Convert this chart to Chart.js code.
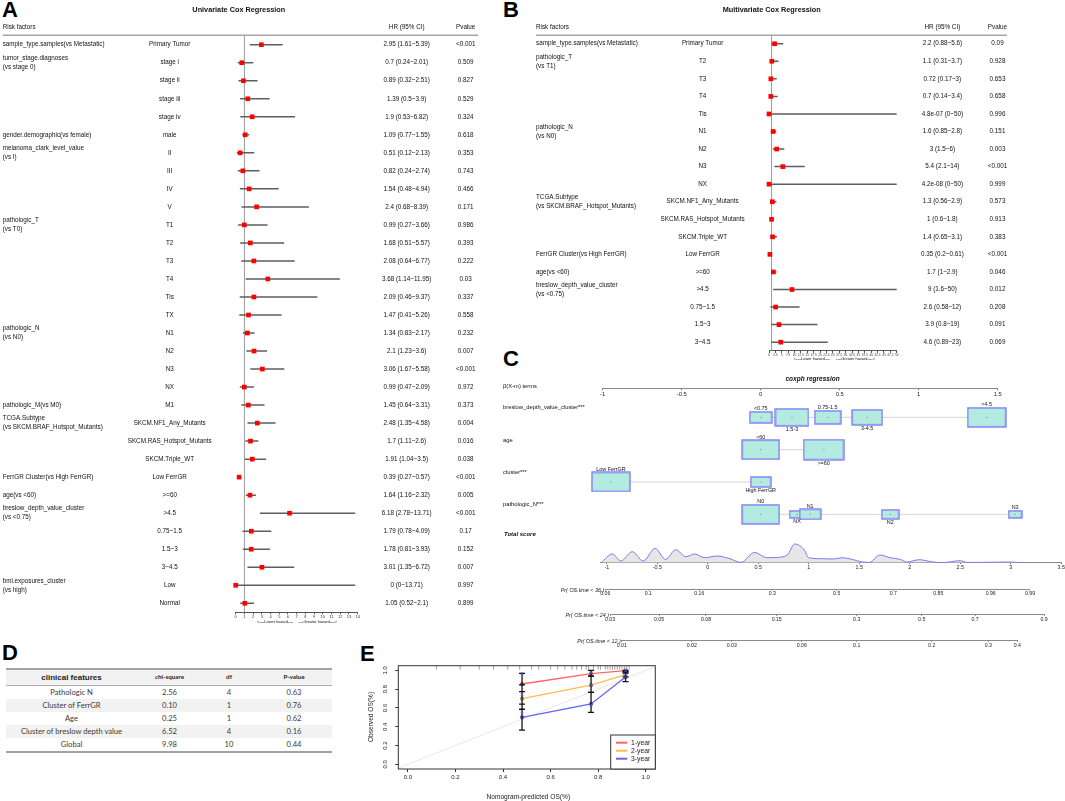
<!DOCTYPE html>
<html>
<head>
<meta charset="utf-8">
<title>Cox regression, nomogram and calibration</title>
<script src="https://cdn.jsdelivr.net/npm/chart.js@4.4.1/dist/chart.umd.min.js"></script>
<style>
  html, body { margin: 0; padding: 0; background: #fff; }
  body { position: relative; width: 1065px; height: 801px; overflow: hidden; font-family: "Liberation Sans", Arial, sans-serif; }
  canvas { position: absolute; }
  .tag { position: absolute; font: bold 22px "Liberation Sans", Arial, sans-serif; line-height: 22px; color: #000; }
  #phTable { position: absolute; left: 6px; top: 668px; width: 326px; border-collapse: collapse; table-layout: fixed;
             font-family: Lato, "Open Sans", sans-serif; color: #3a3a3a; border-top: 2px solid #a3a3a3; border-bottom: 2px solid #a3a3a3; }
  #phTable th { height: 15px; background: #f2f2f2; font-size: 6.3px; font-weight: bold; text-align: center; padding: 0; line-height: 1;
                border-bottom: 1px solid #b0b0b0; color: #222; }
  #phTable th.first { font: bold 8px "Liberation Sans", Arial, sans-serif; }
  #phTable td { height: 13px; font-size: 7.6px; text-align: center; padding: 0; line-height: 1; }
  #phTable tbody tr:nth-child(even) td { background: #f2f2f2; }
</style>
</head>
<body>
<div class="tag" style="left:2px;top:-1px">A</div>
<div class="tag" style="left:503px;top:-1px">B</div>
<div class="tag" style="left:503px;top:348px">C</div>
<div class="tag" style="left:2px;top:642px">D</div>
<div class="tag" style="left:360px;top:643px">E</div>
<table id="phTable">
  <colgroup><col style="width:131px"><col style="width:65px"><col style="width:54px"><col style="width:76px"></colgroup>
  <thead><tr><th class="first">clinical features</th><th>chi-square</th><th>df</th><th>P-value</th></tr></thead>
  <tbody></tbody>
</table>
<script>
const FONT = '"Liberation Sans", Arial, Helvetica, sans-serif';
Chart.defaults.font.family = FONT;
Chart.defaults.color = '#222';
Chart.defaults.animation = false;

// ---- A: univariate Cox ----
const uniGroups = [
  'sample_type.samples(vs Metastatic)',
  'tumor_stage.diagnoses\n(vs stage 0)', '', '', '',
  'gender.demographic(vs female)',
  'melanoma_clark_level_value\n(vs I)', '', '', '',
  'pathologic_T\n(vs T0)', '', '', '', '', '',
  'pathologic_N\n(vs N0)', '', '', '',
  'pathologic_M(vs M0)',
  'TCGA.Subtype\n(vs SKCM.BRAF_Hotspot_Mutants)', '', '',
  'FerrGR Cluster(vs High FerrGR)',
  'age(vs <60)',
  'breslow_depth_value_cluster\n(vs <0.75)', '', '', '',
  'bmi.exposures_cluster\n(vs high)', ''
];
const uniLevels = ['Primary Tumor', 'stage i', 'stage ii', 'stage iii', 'stage iv', 'male', 'II', 'III', 'IV', 'V',
  'T1', 'T2', 'T3', 'T4', 'Tis', 'TX', 'N1', 'N2', 'N3', 'NX', 'M1',
  'SKCM.NF1_Any_Mutants', 'SKCM.RAS_Hotspot_Mutants', 'SKCM.Triple_WT', 'Low FerrGR', '>=60',
  '>4.5', '0.75~1.5', '1.5~3', '3~4.5', 'Low', 'Normal'];
const uniHR = [2.95, 0.7, 0.89, 1.39, 1.9, 1.09, 0.51, 0.82, 1.54, 2.4, 0.99, 1.68, 2.08, 3.68, 2.09, 1.47,
  1.34, 2.1, 3.06, 0.99, 1.45, 2.48, 1.7, 1.91, 0.39, 1.64, 6.18, 1.79, 1.78, 3.01, 0, 1.05];
const uniLow = [1.61, 0.24, 0.32, 0.5, 0.53, 0.77, 0.12, 0.24, 0.48, 0.68, 0.27, 0.51, 0.64, 1.14, 0.46, 0.41,
  0.83, 1.23, 1.67, 0.47, 0.64, 1.35, 1.11, 1.04, 0.27, 1.16, 2.78, 0.78, 0.81, 1.35, 0, 0.52];
const uniHigh = [5.39, 2.01, 2.51, 3.9, 6.82, 1.55, 2.13, 2.74, 4.94, 8.39, 3.66, 5.57, 6.77, 11.95, 9.37, 5.26,
  2.17, 3.6, 5.58, 2.09, 3.31, 4.58, 2.6, 3.5, 0.57, 2.32, 13.71, 4.09, 3.93, 6.72, 13.71, 2.1];
const uniP = ['<0.001', '0.509', '0.827', '0.529', '0.324', '0.618', '0.353', '0.743', '0.466', '0.171', '0.986',
  '0.393', '0.222', '0.03', '0.337', '0.558', '0.232', '0.007', '<0.001', '0.972', '0.373', '0.004', '0.016',
  '0.038', '<0.001', '0.005', '<0.001', '0.17', '0.152', '0.007', '0.997', '0.899'];

// ---- B: multivariate Cox ----
const multiGroups = ['sample_type.samples(vs Metastatic)', 'pathologic_T\n(vs T1)', '', '', '',
  'pathologic_N\n(vs N0)', '', '', '', 'TCGA.Subtype\n(vs SKCM.BRAF_Hotspot_Mutants)', '', '',
  'FerrGR Cluster(vs High FerrGR)', 'age(vs <60)', 'breslow_depth_value_cluster\n(vs <0.75)', '', '', ''];
const multiLevels = ['Primary Tumor', 'T2', 'T3', 'T4', 'Tis', 'N1', 'N2', 'N3', 'NX', 'SKCM.NF1_Any_Mutants',
  'SKCM.RAS_Hotspot_Mutants', 'SKCM.Triple_WT', 'Low FerrGR', '>=60', '>4.5', '0.75~1.5', '1.5~3', '3~4.5'];
const multiHR = [2.2, 1.1, 0.72, 0.7, 4.8e-7, 1.6, 3, 5.4, 4.2e-8, 1.3, 1, 1.4, 0.35, 1.7, 9, 2.6, 3.9, 4.6];
const multiLow = [0.88, 0.31, 0.17, 0.14, 0, 0.85, 1.5, 2.1, 0, 0.56, 0.6, 0.65, 0.2, 1, 1.6, 0.58, 0.8, 0.89];
const multiHigh = [5.6, 3.7, 3, 3.4, 50, 2.8, 6, 14, 50, 2.9, 1.8, 3.1, 0.61, 2.9, 50, 12, 19, 23];
const multiP = ['0.09', '0.928', '0.653', '0.658', '0.996', '0.151', '0.003', '<0.001', '0.999', '0.573', '0.913',
  '0.383', '<0.001', '0.046', '0.012', '0.208', '0.091', '0.069'];

// ---- C: nomogram ----
const nomoVars = ['breslow_depth_value_cluster***', 'age', 'cluster***', 'pathologic_N***'];
const nomoLevels = [['<0.75', '1.5-3', '0.75-1.5', '3-4.5', '>4.5'], ['<60', '>=60'], ['Low FerrGR', 'High FerrGR'], ['N0', 'NX', 'N1', 'N2', 'N3']];
const nomoBeta = [[0, 0.198, 0.424, 0.674, 1.43], [0, 0.398], [-0.948, 0], [0, 0.23, 0.313, 0.82, 1.61]];
const nomoShare = [[0.10, 0.24, 0.15, 0.19, 0.31], [0.30, 0.34], [0.32, 0.087], [0.30, 0.046, 0.092, 0.065, 0.039]];
const pointTicks = [-1, -0.5, 0, 0.5, 1, 1.5];
const scoreTicks = [-1, -0.5, 0, 0.5, 1, 1.5, 2, 2.5, 3, 3.5];
const scoreAt = [-1.057, -0.945, -0.861, -0.748, -0.640, -0.521, -0.419, -0.317, -0.216, -0.131, -0.029, 0.090,
  0.209, 0.328, 0.464, 0.582, 0.684, 0.786, 0.861, 0.956, 0.998, 1.126, 1.245, 1.330, 1.432, 1.516, 1.601, 1.703,
  1.805, 1.907, 1.975, 2.093, 2.212, 2.314, 2.501, 2.568, 2.687, 2.993, 3.095];
const scoreDensity = [0, 8.7, 1.7, 11, 1.7, 14.3, 3.3, 13, 6, 8.7, 5, 6.7, 4.3, 0.3, 10.3, 5, 5.3, 7.7, 18.7, 12.7,
  5, 4, 3.7, 5, 3.3, 1, 0.3, 7.7, 5, 3.3, 0.7, 3, 1, 0, 2, 0.3, 0.3, 0.7, 0];
const pr36Labels = ['0.06', '0.1', '0.16', '0.3', '0.5', '0.7', '0.85', '0.96', '0.99'];
const pr36At = [-1.015, -0.589, -0.084, 0.639, 1.276, 1.837, 2.282, 2.801, 3.190];
const pr24Labels = ['0.03', '0.05', '0.08', '0.15', '0.3', '0.5', '0.7', '0.9'];
const pr24At = [-0.968, -0.483, -0.018, 0.682, 1.474, 2.118, 2.646, 3.329];
const pr12Labels = ['0.01', '0.02', '0.03', '0.06', '0.1', '0.2', '0.3', '0.4'];
const pr12At = [-0.852, -0.159, 0.237, 0.930, 1.474, 2.217, 2.777, 3.064];

// ---- D: proportional hazards test ----
const phFeatures = ['Pathologic N', 'Cluster of FerrGR', 'Age', 'Cluster of breslow depth value', 'Global'];
const phChisq = ['2.56', '0.10', '0.25', '6.52', '9.98'];
const phDf = [4, 1, 1, 4, 10];
const phP = ['0.63', '0.76', '0.62', '0.16', '0.44'];

// ---- E: calibration ----
const calNames = ['1-year', '2-year', '3-year'];
const calX = [0.48, 0.77, 0.915];
const cal1y = [0.855, 0.965, 0.997];
const cal2y = [0.70, 0.843, 0.955];
const cal3y = [0.50, 0.643, 0.93];
const cal1yLo = [0.773, 0.94, 0.985], cal1yHi = [0.969, 1.0, 1.0];
const cal2yLo = [0.586, 0.766, 0.93], cal2yHi = [0.845, 0.94, 0.985];
const cal3yLo = [0.365, 0.553, 0.88], cal3yHi = [0.64, 0.766, 0.97];
const calCorrected = [[0.969, 0.975, 0.995], [0.745, 0.84, 0.955], [0.535, 0.63, 0.925]];
const calRug = [0.12, 0.22, 0.3, 0.36, 0.42, 0.47, 0.52, 0.55, 0.6, 0.63, 0.66, 0.69, 0.71, 0.73, 0.75, 0.76,
  0.78, 0.8, 0.81, 0.83, 0.84, 0.85, 0.86, 0.87, 0.88, 0.89, 0.9, 0.91, 0.92, 0.93];
const calTicks = [0, 0.2, 0.4, 0.6, 0.8, 1.0];
const calColors = ['#ff6464', '#ffbb55', '#6464ff'];

function fmt(v) {
  if (v !== 0 && Math.abs(v) < 1e-3) return v.toExponential(1).replace(/e-(\d)$/, 'e-0$1');
  return String(v);
}

function makeCanvas(left, top, width, height) {
  const c = document.createElement('canvas');
  c.width = width; c.height = height;
  Object.assign(c.style, {left: left + 'px', top: top + 'px', width: width + 'px', height: height + 'px'});
  document.body.appendChild(c);
  return c;
}

// forest plot: a scatter chart for the marks, text columns drawn beside it
function drawForest(o) {
  const cv = makeCanvas(o.left, o.top, o.width, o.height);
  const n = o.hr.length, L = o.left, T = o.top, axisH = 9;
  const whisker = [];
  o.lo.forEach((lo, i) => whisker.push({x: lo, y: i}, {x: o.hi[i], y: i}, {x: null, y: i}));
  const marks = o.hr.map((v, i) => ({x: v, y: i}));

  const textPlugin = {
    id: 'forestText',
    beforeDatasetsDraw(chart) {
      const ctx = chart.ctx, a = chart.chartArea, x1 = chart.scales.x.getPixelForValue(1);
      ctx.save();
      ctx.strokeStyle = '#9a9a9a'; ctx.lineWidth = 1;
      ctx.beginPath(); ctx.moveTo(x1, a.top); ctx.lineTo(x1, a.bottom); ctx.stroke();
      ctx.restore();
    },
    afterDraw(chart) {
      const ctx = chart.ctx, ys = chart.scales.y;
      ctx.save();
      ctx.fillStyle = '#111';
      ctx.textBaseline = 'middle';
      ctx.font = 'bold 7.3px ' + FONT; ctx.textAlign = 'center';
      ctx.fillText(o.title, o.titleX - L, 10 - T);
      ctx.font = '6.3px ' + FONT;
      ctx.textAlign = 'left'; ctx.fillText('Risk factors', o.varX - L, 27 - T);
      ctx.textAlign = 'center';
      ctx.fillText('HR (95% CI)', o.hrX - L, 27 - T);
      ctx.fillText('Pvalue', o.pX - L, 27 - T);
      ctx.strokeStyle = '#a6a6a6'; ctx.lineWidth = 1.5;
      ctx.beginPath(); ctx.moveTo(o.varX - L, 35.3 - T); ctx.lineTo(o.ruleEnd - L, 35.3 - T); ctx.stroke();
      for (let i = 0; i < n; i++) {
        const y = ys.getPixelForValue(i);
        if (o.groups[i]) {
          const lines = o.groups[i].split('\n');
          ctx.textAlign = 'left';
          if (lines.length === 1) ctx.fillText(lines[0], o.varX - L, y);
          else { ctx.fillText(lines[0], o.varX - L, y - 4.5); ctx.fillText(lines[1], o.varX - L, y + 4.5); }
        }
        ctx.textAlign = 'center';
        ctx.fillText(o.levels[i], o.levelX - L, y);
        ctx.fillText(fmt(o.hr[i]) + ' (' + fmt(o.lo[i]) + '~' + fmt(o.hi[i]) + ')', o.hrX - L, y);
        ctx.fillText(o.p[i], o.pX - L, y);
      }
      ctx.font = '3.9px ' + FONT;
      ctx.fillText('<----Lower hazard----', o.lowX - L, o.hazY - T);
      ctx.fillText('----Greater hazard---->', o.highX - L, o.hazY - T);
      ctx.restore();
    }
  };

  new Chart(cv, {
    type: 'scatter',
    data: {datasets: [
      {type: 'line', data: whisker, borderColor: '#5e5e5e', borderWidth: 1.5, pointRadius: 0, spanGaps: false, clip: false, order: 2},
      {data: marks, pointStyle: 'rect', pointRadius: 3.3, backgroundColor: '#ff0000', borderWidth: 0, clip: false, order: 1}
    ]},
    options: {
      responsive: false, animation: false, events: [],
      layout: {padding: {left: o.area.left - L, right: L + o.width - o.area.right, top: o.area.top - T,
                         bottom: T + o.height - o.area.bottom - axisH}},
      plugins: {legend: {display: false}, tooltip: {enabled: false}},
      scales: {
        x: {type: 'linear', min: 0, max: o.xMax,
            afterFit(s) { s.height = axisH; s.paddingLeft = 0; s.paddingRight = 0; },
            ticks: {stepSize: o.step, autoSkip: false, maxRotation: 0, padding: 0.5, font: {size: o.tickSize}, color: '#333'},
            grid: {drawOnChartArea: false, tickLength: 2, color: '#555'},
            border: {color: '#555', width: 1}},
        y: {type: 'linear', display: false, reverse: true, min: -0.5, max: n - 0.5}
      }
    },
    plugins: [textPlugin]
  });
}

drawForest({
  left: 0, top: 0, width: 490, height: 635,
  area: {left: 235.7, right: 357.7, top: 35.7, bottom: 612.3},
  xMax: 14, step: 1, tickSize: 4,
  title: 'Univariate Cox Regression', titleX: 238.8,
  varX: 2.7, levelX: 169.7, hrX: 406.7, pX: 465.7, ruleEnd: 478,
  lowX: 275, highX: 317.7, hazY: 621.7,
  groups: uniGroups, levels: uniLevels, hr: uniHR, lo: uniLow, hi: uniHigh, p: uniP
});

drawForest({
  left: 500, top: 0, width: 565, height: 372,
  area: {left: 769, right: 896.7, top: 34.95, bottom: 350.95},
  xMax: 50, step: 2.5, tickSize: 3.2,
  title: 'Multivariate Cox Regression', titleX: 771.7,
  varX: 536, levelX: 702.6, hrX: 942.4, pX: 997.5, ruleEnd: 1007,
  lowX: 811.7, highX: 855.5, hazY: 358.6,
  groups: multiGroups, levels: multiLevels, hr: multiHR, lo: multiLow, hi: multiHigh, p: multiP
});

// ---- nomogram boxes ----
function boxImage(h) {
  const c = document.createElement('canvas');
  c.width = Math.round(2 * h + 2); c.height = Math.round(h + 2);
  const g = c.getContext('2d');
  g.fillStyle = '#b4ebe1'; g.strokeStyle = '#7d7df5'; g.lineWidth = 1.4;
  g.fillRect(1, 1, c.width - 2, c.height - 2);
  g.strokeRect(1, 1, c.width - 2, c.height - 2);
  g.fillStyle = '#777'; g.fillRect(c.width / 2 - 0.5, c.height / 2 - 0.5, 1, 1);
  return c;
}

function drawNomogram() {
  const L = 500, T = 372;
  const cv = makeCanvas(L, T, 565, 172);
  const pts = [], imgs = [], tags = [], links = [];
  nomoBeta.forEach((betas, r) => {
    betas.forEach((b, k) => {
      pts.push({x: b, y: r});
      imgs.push(boxImage(34 * Math.sqrt(nomoShare[r][k])));
      tags.push({text: nomoLevels[r][k], above: k % 2 === 0});
    });
    links.push({x: Math.min(...betas), y: r}, {x: Math.max(...betas), y: r}, {x: null, y: r});
  });
  const textPlugin = {
    id: 'nomoText',
    afterDraw(chart) {
      const ctx = chart.ctx, ys = chart.scales.y, meta = chart.getDatasetMeta(1);
      ctx.save();
      ctx.fillStyle = '#111';
      ctx.textBaseline = 'middle';
      ctx.font = 'bold italic 6.5px ' + FONT; ctx.textAlign = 'center';
      ctx.fillText('coxph regression', 812.6 - L, 379.7 - T);
      ctx.font = '5.8px ' + FONT; ctx.textAlign = 'left';
      ctx.fillText('\u03b2(X-m) terms', 503 - L, 386 - T);
      nomoVars.forEach((v, r) => ctx.fillText(v, 503 - L, ys.getPixelForValue(r) - 9.6));
      ctx.font = 'bold italic 6px ' + FONT;
      ctx.fillText('Total score', 504 - L, 534 - T);
      ctx.font = '5.4px ' + FONT; ctx.textAlign = 'center';
      meta.data.forEach((pt, i) => {
        const h = imgs[i].height / 2;
        if (tags[i].above) { ctx.textBaseline = 'bottom'; ctx.fillText(tags[i].text, pt.x, pt.y - h + 0.8); }
        else { ctx.textBaseline = 'top'; ctx.fillText(tags[i].text, pt.x, pt.y + h - 0.3); }
      });
      ctx.restore();
    }
  };
  new Chart(cv, {
    type: 'scatter',
    data: {datasets: [
      {type: 'line', data: links, borderColor: '#d5d5d5', borderWidth: 1, pointRadius: 0, spanGaps: false, order: 2},
      {data: pts, pointStyle: imgs, pointRadius: 3, order: 1}
    ]},
    options: {
      responsive: false, animation: false, events: [],
      layout: {padding: {left: 86.9, right: 35.7, top: 16.7, bottom: 13.5}},
      plugins: {legend: {display: false}, tooltip: {enabled: false}},
      scales: {
        x: {type: 'linear', display: false, min: -1.1, max: 1.7},
        y: {type: 'linear', display: false, reverse: true, min: -0.885, max: 3.5}
      }
    },
    plugins: [textPlugin]
  });
}
drawNomogram();

// one nomogram axis (optionally with data above it)
function nomoAxis(o) {
  const padL = o.padLeft || 30, padR = 30, belowH = 10;
  const areaTop = o.areaTop !== undefined ? o.areaTop : o.axisY - 3;
  const left = Math.floor(o.pxLeft - padL), top = Math.floor(areaTop - 3);
  const width = Math.ceil(o.pxRight + padR - left), height = Math.ceil(o.axisY + belowH + 3 - top);
  const cv = makeCanvas(left, top, width, height);
  const plugins = [];
  if (o.title) {
    plugins.push({
      id: 'axisTitle',
      afterDraw(chart) {
        const ctx = chart.ctx;
        ctx.save();
        ctx.font = 'italic 5.4px ' + FONT; ctx.fillStyle = '#222';
        ctx.textAlign = 'right'; ctx.textBaseline = 'middle';
        ctx.fillText(o.title, chart.chartArea.left - 1, chart.chartArea.bottom + 1.5);
        ctx.restore();
      }
    });
  }
  return new Chart(cv, {
    type: 'scatter',
    data: {datasets: o.datasets || []},
    options: {
      responsive: false, animation: false, events: [],
      layout: {padding: {left: o.pxLeft - left, right: left + width - o.pxRight, top: areaTop - top,
                         bottom: top + height - o.axisY - belowH}},
      plugins: {legend: {display: false}, tooltip: {enabled: false}},
      scales: {
        x: {type: 'linear', min: o.min, max: o.max,
            afterFit(s) { s.height = belowH; s.paddingLeft = 0; s.paddingRight = 0; },
            afterBuildTicks(s) { s.ticks = o.at.map(v => ({value: v})); },
            ticks: {autoSkip: false, maxRotation: 0, minRotation: 0, padding: 0.3, font: {size: o.fontSize || 5.2},
                    color: '#222', callback: (v, i) => o.labels[i]},
            grid: {drawOnChartArea: false, tickLength: 1.5, color: '#777'},
            border: {color: '#8a8a8a', width: 1}},
        y: {type: 'linear', display: false, min: 0, max: o.yMax || 1}
      }
    },
    plugins
  });
}

// points axis at the top of the nomogram
nomoAxis({min: -1, max: 1.5, pxLeft: 602.7, pxRight: 997.7, axisY: 388.7, at: pointTicks,
          labels: pointTicks.map(String), fontSize: 5.8});

// total score axis with the score density
const SCORE0 = 707.8, SCORE_PX = 101;
nomoAxis({min: -1.06, max: 3.5, pxLeft: SCORE0 - 1.06 * SCORE_PX, pxRight: SCORE0 + 3.5 * SCORE_PX,
          axisY: 562.7, areaTop: 542.7, yMax: 20, at: scoreTicks, labels: scoreTicks.map(String), fontSize: 5.4,
          datasets: [{type: 'line', data: scoreAt.map((x, i) => ({x, y: scoreDensity[i]})), borderColor: '#7a7af0',
                      borderWidth: 1, backgroundColor: '#e6e6e6', fill: 'origin', pointRadius: 0,
                      cubicInterpolationMode: 'monotone'}]});

// probability axes
[[pr36At, pr36Labels, 'Pr( OS.time < 36 )', 589],
 [pr24At, pr24Labels, 'Pr( OS.time < 24 )', 614.3],
 [pr12At, pr12Labels, 'Pr( OS.time < 12 )', 640.3]].forEach(([at, labels, title, y]) => {
  const mn = at[0], mx = at[at.length - 1];
  nomoAxis({min: mn, max: mx, pxLeft: SCORE0 + mn * SCORE_PX, pxRight: SCORE0 + mx * SCORE_PX, axisY: y,
            at, labels, title, padLeft: 60, fontSize: 5.2});
});

// ---- D table ----
const tbody = document.querySelector('#phTable tbody');
phFeatures.forEach((f, i) => {
  const tr = document.createElement('tr');
  [f, phChisq[i], phDf[i], phP[i]].forEach(v => {
    const td = document.createElement('td'); td.textContent = v; tr.appendChild(td);
  });
  tbody.appendChild(tr);
});

// ---- E calibration ----
function drawCalibration() {
  const L = 355, T = 660;
  const cv = makeCanvas(L, T, 310, 141);
  const series = [cal1y, cal2y, cal3y];
  const bars = [], caps = [], crosses = [];
  [[cal1yLo, cal1yHi], [cal2yLo, cal2yHi], [cal3yLo, cal3yHi]].forEach(([lo, hi]) => {
    calX.forEach((x, i) => {
      bars.push({x, y: lo[i]}, {x, y: hi[i]}, {x: null, y: null});
      caps.push({x, y: lo[i]}, {x, y: hi[i]});
    });
  });
  calCorrected.forEach(vals => vals.forEach((v, i) => crosses.push({x: calX[i], y: v})));

  const datasets = [
    {type: 'line', data: [{x: -0.05, y: -0.05}, {x: 1.05, y: 1.05}], borderColor: '#e8e8e8', borderWidth: 1, pointRadius: 0, order: 9},
    {data: calRug.map(x => ({x, y: 1.035})), pointStyle: 'line', rotation: 90, pointRadius: 2.5, borderColor: '#777', borderWidth: 0.7, order: 8}
  ];
  series.forEach((vals, k) => datasets.push({
    type: 'line', data: calX.map((x, i) => ({x, y: vals[i]})), borderColor: calColors[k], borderWidth: 1.3,
    pointRadius: 1.7, pointBackgroundColor: calColors[k], pointBorderColor: '#333', pointBorderWidth: 0.5, order: 5 + k
  }));
  datasets.push(
    {type: 'line', data: bars, borderColor: '#111', borderWidth: 1.3, pointRadius: 0, spanGaps: false, order: 3},
    {data: caps, pointStyle: 'line', pointRadius: 3, borderColor: '#111', borderWidth: 1.3, order: 2},
    {data: crosses, pointStyle: 'crossRot', pointRadius: 1.8, borderColor: '#4d4dff', borderWidth: 0.8, order: 1}
  );

  const decor = {
    id: 'calDecor',
    afterDraw(chart) {
      const ctx = chart.ctx, a = chart.chartArea, ys = chart.scales.y;
      ctx.save();
      ctx.strokeStyle = '#333'; ctx.lineWidth = 1;
      ctx.strokeRect(a.left, a.top, a.right - a.left, a.bottom - a.top);
      ctx.fillStyle = '#222'; ctx.font = '6px ' + FONT; ctx.textAlign = 'center'; ctx.textBaseline = 'middle';
      calTicks.forEach(v => {
        ctx.save(); ctx.translate(385 - L, ys.getPixelForValue(v)); ctx.rotate(-Math.PI / 2);
        ctx.fillText(v.toFixed(1), 0, 0); ctx.restore();
      });
      ctx.font = '6.6px ' + FONT;
      ctx.fillText('Nomogram-predicted OS(%)', 528.3 - L, 796.7 - T);
      ctx.save(); ctx.translate(370.7 - L, 717 - T); ctx.rotate(-Math.PI / 2);
      ctx.fillText('Observed OS(%)', 0, 0); ctx.restore();
      // legend
      const lx = 610.7 - L, ly = 735 - T;
      ctx.fillStyle = '#fff'; ctx.fillRect(lx, ly, a.right - lx, a.bottom - ly);
      ctx.strokeStyle = '#333'; ctx.lineWidth = 1; ctx.strokeRect(lx, ly, a.right - lx, a.bottom - ly);
      ctx.font = '6.8px ' + FONT; ctx.textAlign = 'left';
      calNames.forEach((nm, i) => {
        const y = ly + 7.7 + 8 * i;
        ctx.strokeStyle = calColors[i]; ctx.lineWidth = 2;
        ctx.beginPath(); ctx.moveTo(lx + 5.3, y); ctx.lineTo(lx + 16.6, y); ctx.stroke();
        ctx.fillStyle = '#222'; ctx.fillText(nm, lx + 20.3, y);
      });
      ctx.restore();
    }
  };

  new Chart(cv, {
    type: 'scatter',
    data: {datasets},
    options: {
      responsive: false, animation: false, events: [],
      layout: {padding: {left: 39.3, right: 9.7, top: 5.7, bottom: 18}},
      plugins: {legend: {display: false}, tooltip: {enabled: false}},
      scales: {
        x: {type: 'linear', min: -0.04, max: 1.04,
            afterFit(s) { s.height = 14; s.paddingLeft = 0; s.paddingRight = 0; },
            afterBuildTicks(s) { s.ticks = calTicks.map(v => ({value: v})); },
            ticks: {autoSkip: false, maxRotation: 0, padding: 2, font: {size: 6}, color: '#222', callback: v => v.toFixed(1)},
            grid: {drawOnChartArea: false, tickLength: 3, color: '#333'}, border: {display: false}},
        y: {type: 'linear', min: -0.05, max: 1.05,
            afterFit(s) { s.width = 4; },
            afterBuildTicks(s) { s.ticks = calTicks.map(v => ({value: v})); },
            ticks: {display: false},
            grid: {drawOnChartArea: false, tickLength: 3, color: '#333'}, border: {display: false}}
      }
    },
    plugins: [decor]
  });
}
drawCalibration();
</script>
</body>
</html>
